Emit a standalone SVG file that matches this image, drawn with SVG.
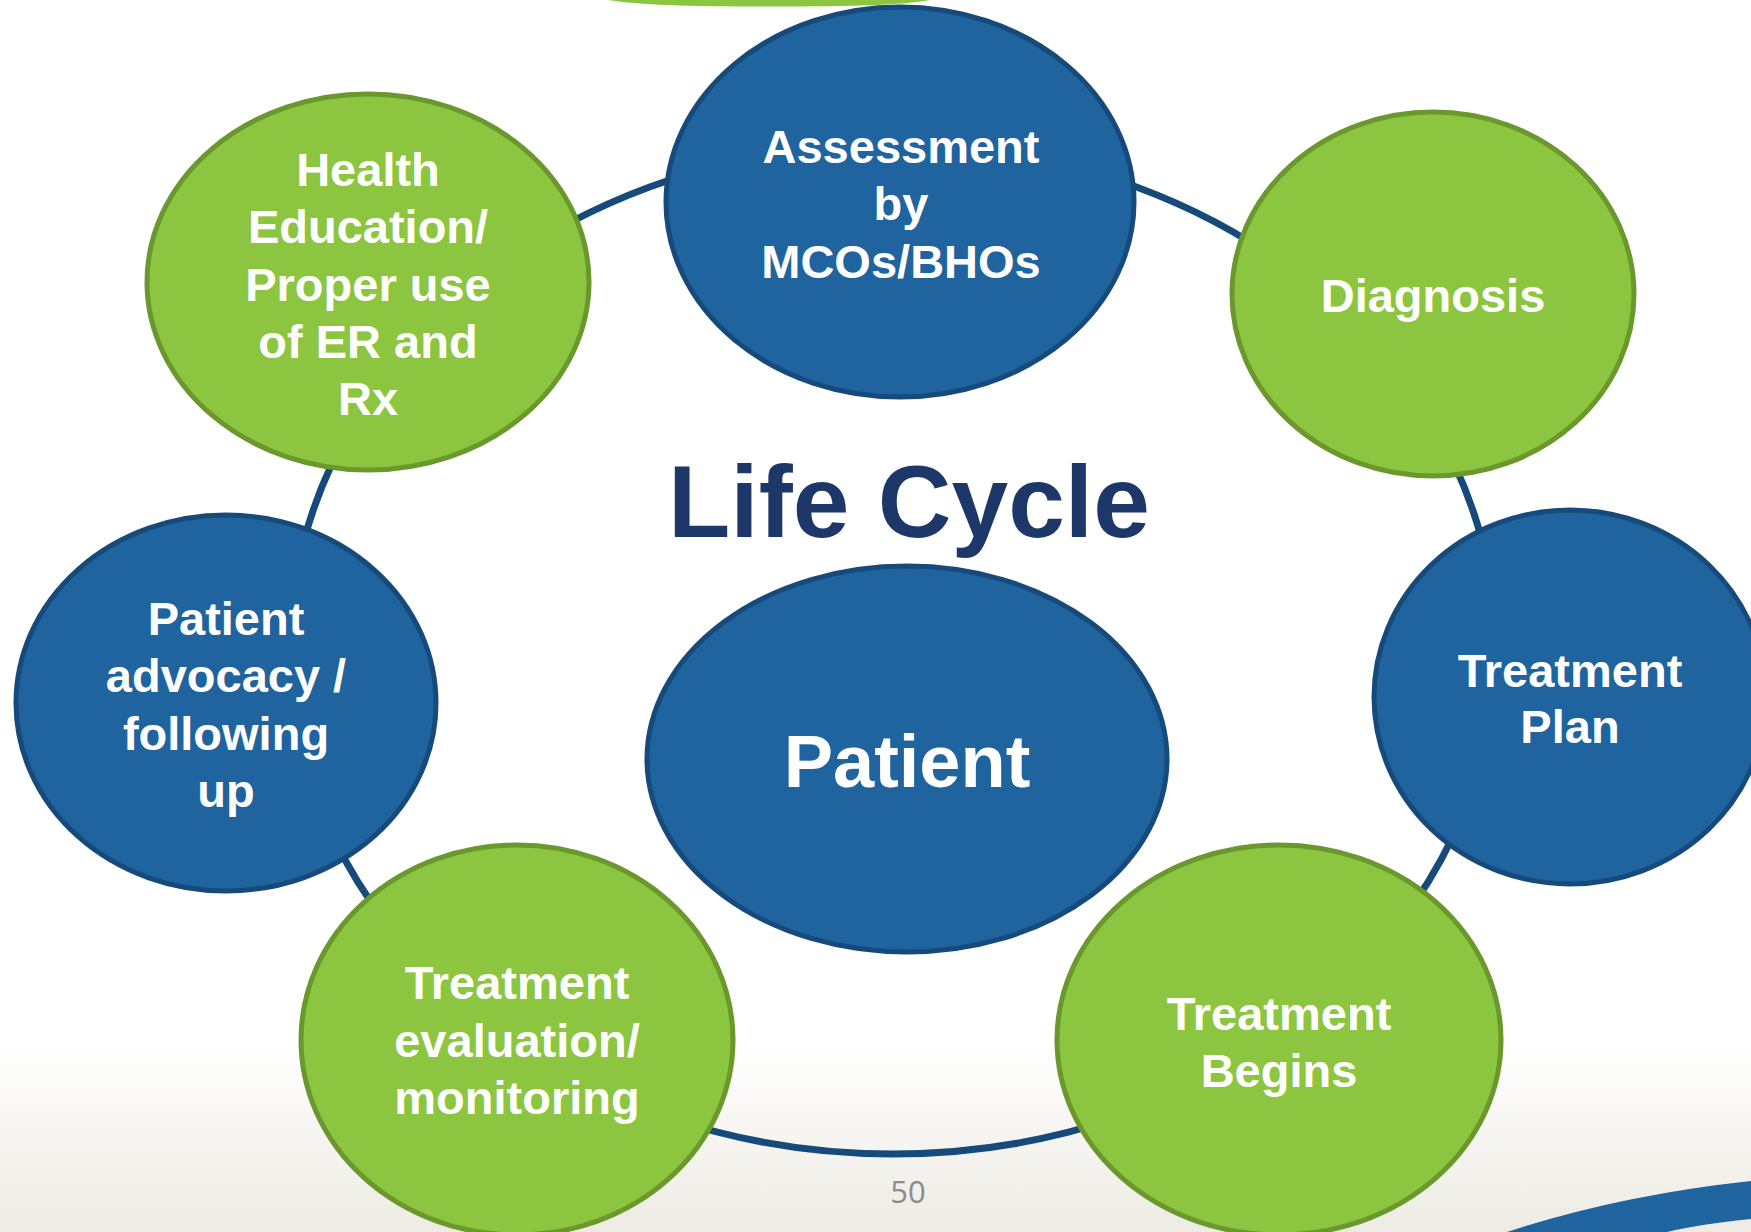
<svg xmlns="http://www.w3.org/2000/svg" width="1751" height="1232" viewBox="0 0 1751 1232">
  <defs>
    <linearGradient id="floor" x1="0" y1="1040" x2="0" y2="1232" gradientUnits="userSpaceOnUse">
      <stop offset="0" stop-color="#ffffff"/>
      <stop offset="1" stop-color="#edebe3"/>
    </linearGradient>
    <style>
      .blue { fill: #1f639f; stroke: #164a7b; stroke-width: 5; }
      .green { fill: #8cc540; stroke: #6a982d; stroke-width: 5; }
      .label { font-family: "Liberation Sans", Arial, sans-serif; font-weight: bold; fill: #ffffff; text-anchor: middle; font-size: 47px; }
      .ring { fill: none; stroke: #154a7a; stroke-width: 7; }
    </style>
  </defs>

  <!-- page background -->
  <rect x="0" y="0" width="1751" height="1232" fill="url(#floor)"/>

  <!-- slide decorations -->
  <path d="M 608 0 C 640 5 690 6.5 770 6.5 C 860 6.5 900 5 930 0 Z" fill="#8cc540"/>
  <path d="M 1507 1232 Q 1620 1195 1751 1181 L 1751 1219 Q 1700 1224 1667 1232 Z" fill="#1f639f"/>

  <!-- cycle connector -->
  <g id="connectors">
    <ellipse class="ring" cx="893" cy="649" rx="603" ry="505"/>
  </g>

  <!-- title -->
  <text x="909" y="537" font-family="Liberation Sans, Arial, sans-serif" font-weight="bold" font-size="102" fill="#1d3768" text-anchor="middle">Life Cycle</text>

  <g id="node-assessment">
    <ellipse class="blue" cx="900" cy="202" rx="234" ry="195"/>
    <text class="label"><tspan x="901" y="163">Assessment</tspan><tspan x="901" y="220">by</tspan><tspan x="901" y="278">MCOs/BHOs</tspan></text>
  </g>

  <g id="node-diagnosis">
    <ellipse class="green" cx="1433" cy="294" rx="201" ry="182"/>
    <text class="label" x="1433" y="312">Diagnosis</text>
  </g>

  <g id="node-treatment-plan">
    <ellipse class="blue" cx="1570" cy="697" rx="196" ry="187"/>
    <text class="label"><tspan x="1570" y="687">Treatment</tspan><tspan x="1570" y="743">Plan</tspan></text>
  </g>

  <g id="node-treatment-begins">
    <ellipse class="green" cx="1279" cy="1040" rx="222" ry="195"/>
    <text class="label"><tspan x="1279" y="1030">Treatment</tspan><tspan x="1279" y="1087">Begins</tspan></text>
  </g>

  <g id="node-treatment-evaluation">
    <ellipse class="green" cx="517" cy="1040" rx="216" ry="195"/>
    <text class="label"><tspan x="517" y="999">Treatment</tspan><tspan x="517" y="1057">evaluation/</tspan><tspan x="517" y="1114">monitoring</tspan></text>
  </g>

  <g id="node-patient-advocacy">
    <ellipse class="blue" cx="226" cy="703" rx="210" ry="188"/>
    <text class="label"><tspan x="226" y="635">Patient</tspan><tspan x="226" y="692">advocacy /</tspan><tspan x="226" y="750">following</tspan><tspan x="226" y="807">up</tspan></text>
  </g>

  <g id="node-health-education">
    <ellipse class="green" cx="368" cy="282" rx="221" ry="188"/>
    <text class="label"><tspan x="368" y="186">Health</tspan><tspan x="368" y="243">Education/</tspan><tspan x="368" y="301">Proper use</tspan><tspan x="368" y="358">of ER and</tspan><tspan x="368" y="415">Rx</tspan></text>
  </g>

  <g id="node-patient">
    <ellipse class="blue" cx="907" cy="759" rx="260" ry="193"/>
    <text class="label" x="907" y="787" style="font-size:74px">Patient</text>
  </g>

  <!-- page number -->
  <text x="908" y="1203" font-family="Open Sans, Noto Sans, sans-serif" font-size="31" fill="#8c8c8c" text-anchor="middle">50</text>
</svg>
